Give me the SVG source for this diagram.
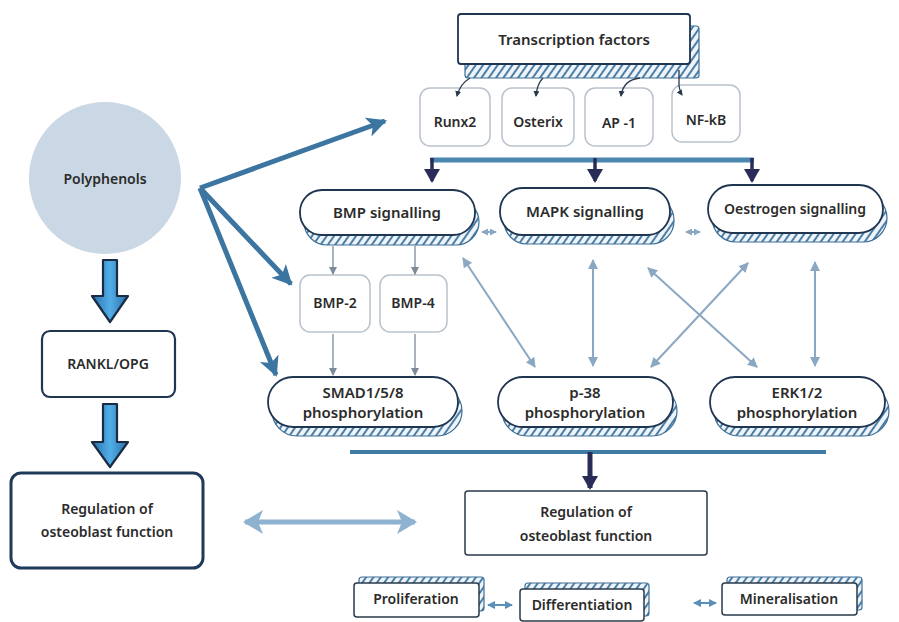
<svg xmlns="http://www.w3.org/2000/svg" width="899" height="622" viewBox="0 0 899 622">
<defs>
<style>
text{font-family:"Noto Sans","Liberation Sans",sans-serif;font-weight:600;fill:#2b2b2b;text-anchor:middle}
.t15{font-size:15px}
.t14{font-size:14px}
.t13{font-size:13.5px}
.pill{fill:#fff;stroke:#1f3550;stroke-width:1.8}
.shadow{fill:url(#hatch);stroke:#3e6f96;stroke-width:1.2}
.soft{fill:#fff;stroke:#b9c2cc;stroke-width:1.5}
.thin{stroke:#7d8b99;stroke-width:1.3;fill:none}
.lite{stroke:#8ba8c3;stroke-width:2;fill:none}
.big{stroke:#3b75a0;stroke-width:5;fill:none}
</style>
<pattern id="hatch" width="6" height="6" patternUnits="userSpaceOnUse" patternTransform="rotate(35)">
<rect width="6" height="6" fill="#eef4f9"/>
<line x1="1" y1="0" x2="1" y2="6" stroke="#4b7fa8" stroke-width="2"/>
</pattern>
<linearGradient id="blk" x1="0" y1="0" x2="1" y2="0">
<stop offset="0" stop-color="#2b6fa8"/>
<stop offset="0.5" stop-color="#52aee8"/>
<stop offset="1" stop-color="#2b6fa8"/>
</linearGradient>
<marker id="mBig" markerUnits="userSpaceOnUse" markerWidth="24" markerHeight="24" refX="18" refY="10" orient="auto">
<path d="M0,0 L20,10 L0,20 L5,10 Z" fill="#3b75a0"/>
</marker>
<marker id="mLiteE" markerUnits="userSpaceOnUse" markerWidth="12" markerHeight="12" refX="9" refY="5" orient="auto">
<path d="M0,0 L10,5 L0,10 Z" fill="#8ba8c3"/>
</marker>
<marker id="mLiteS" markerUnits="userSpaceOnUse" markerWidth="12" markerHeight="12" refX="1" refY="5" orient="auto">
<path d="M10,0 L0,5 L10,10 Z" fill="#8ba8c3"/>
</marker>
<marker id="mTinyE" markerUnits="userSpaceOnUse" markerWidth="8" markerHeight="8" refX="6" refY="3.5" orient="auto">
<path d="M0,0 L7,3.5 L0,7 Z" fill="#8ba8c3"/>
</marker>
<marker id="mTinyS" markerUnits="userSpaceOnUse" markerWidth="8" markerHeight="8" refX="1" refY="3.5" orient="auto">
<path d="M7,0 L0,3.5 L7,7 Z" fill="#8ba8c3"/>
</marker>
<marker id="mThin" markerUnits="userSpaceOnUse" markerWidth="10" markerHeight="10" refX="7" refY="4" orient="auto">
<path d="M0,0 L8,4 L0,8 Z" fill="#7d8b99"/>
</marker>
<marker id="mDot" markerUnits="userSpaceOnUse" markerWidth="8" markerHeight="8" refX="5" refY="3" orient="auto">
<path d="M0,0 L6,3 L0,6 Z" fill="#2b3a4a"/>
</marker>
<marker id="mDark" markerUnits="userSpaceOnUse" markerWidth="20" markerHeight="20" refX="12" refY="8" orient="auto">
<path d="M0,0 L14,8 L0,16 Z" fill="#2a2c58"/>
</marker>
<marker id="mWideE" markerUnits="userSpaceOnUse" markerWidth="26" markerHeight="26" refX="18" refY="12" orient="auto">
<path d="M0,0 L20,12 L0,24 L5,12 Z" fill="#8eb2cf"/>
</marker>
<marker id="mWideS" markerUnits="userSpaceOnUse" markerWidth="26" markerHeight="26" refX="2" refY="12" orient="auto">
<path d="M20,0 L0,12 L20,24 L15,12 Z" fill="#8eb2cf"/>
</marker>
<marker id="mSmE" markerUnits="userSpaceOnUse" markerWidth="10" markerHeight="10" refX="7" refY="4" orient="auto">
<path d="M0,0 L8,4 L0,8 Z" fill="#5a8fba"/>
</marker>
<marker id="mSmS" markerUnits="userSpaceOnUse" markerWidth="10" markerHeight="10" refX="1" refY="4" orient="auto">
<path d="M8,0 L0,4 L8,8 Z" fill="#5a8fba"/>
</marker>
</defs>
<rect width="899" height="622" fill="#ffffff"/>

<g id="polyphenols">
<circle cx="105" cy="178" r="76" fill="#cad7e5"/>
<text class="t14" x="105" y="184">Polyphenols</text>
</g>

<g id="rankl">
<rect x="42" y="331" width="133" height="66" rx="8" fill="#fff" stroke="#1f3550" stroke-width="2.2"/>
<text class="t14" x="108" y="369">RANKL/OPG</text>
</g>

<g id="regulation-left">
<rect x="11" y="473" width="192" height="95" rx="10" fill="#fff" stroke="#1f3a5a" stroke-width="3"/>
<text class="t14" x="107" y="514">Regulation of</text>
<text class="t14" x="107" y="537">osteoblast function</text>
</g>

<g id="transcription-factors">
<rect class="shadow" x="465" y="26" width="234" height="52" rx="3"/>
<rect x="458" y="14" width="232" height="50" rx="3" fill="#fff" stroke="#1f3550" stroke-width="1.8"/>
<text class="t15" x="574" y="45">Transcription factors</text>
</g>

<g id="runx2"><rect class="soft" x="420" y="88" width="70" height="58" rx="10"/><text class="t14" x="455" y="127">Runx2</text></g>
<g id="osterix"><rect class="soft" x="502" y="88" width="72" height="58" rx="10"/><text class="t14" x="538" y="127">Osterix</text></g>
<g id="ap1"><rect class="soft" x="585" y="88" width="68" height="58" rx="10"/><text class="t14" x="619" y="128">AP -1</text></g>
<g id="nfkb"><rect class="soft" x="672" y="85" width="68" height="57" rx="10"/><text class="t14" x="706" y="125">NF-kB</text></g>

<g id="bmp-signalling">
<rect class="shadow" x="304" y="199" width="175" height="46" rx="23"/>
<rect class="pill" x="300" y="190" width="175" height="45" rx="22"/>
<text class="t15" x="387" y="218">BMP signalling</text>
</g>
<g id="mapk-signalling">
<rect class="shadow" x="504" y="197" width="170" height="47" rx="23"/>
<rect class="pill" x="500" y="188" width="170" height="47" rx="23"/>
<text class="t15" x="585" y="217">MAPK signalling</text>
</g>
<g id="oestrogen-signalling">
<rect class="shadow" x="712" y="194" width="175" height="48" rx="24"/>
<rect class="pill" x="708" y="185" width="175" height="48" rx="24"/>
<text class="t14" x="795" y="214">Oestrogen signalling</text>
</g>

<g id="bmp2"><rect class="soft" x="300" y="275" width="70" height="57" rx="10"/><text class="t14" x="335" y="308">BMP-2</text></g>
<g id="bmp4"><rect class="soft" x="380" y="275" width="67" height="57" rx="10"/><text class="t14" x="413" y="308">BMP-4</text></g>

<g id="smad">
<rect class="shadow" x="272" y="386" width="190" height="50" rx="25"/>
<rect class="pill" x="268" y="377" width="190" height="50" rx="25"/>
<text class="t15" x="363" y="398">SMAD1/5/8</text>
<text class="t15" x="363" y="418">phosphorylation</text>
</g>
<g id="p38">
<rect class="shadow" x="502" y="386" width="175" height="50" rx="25"/>
<rect class="pill" x="498" y="377" width="175" height="50" rx="25"/>
<text class="t15" x="585" y="398">p-38</text>
<text class="t15" x="585" y="418">phosphorylation</text>
</g>
<g id="erk">
<rect class="shadow" x="714" y="386" width="175" height="50" rx="25"/>
<rect class="pill" x="710" y="377" width="175" height="50" rx="25"/>
<text class="t15" x="797" y="398">ERK1/2</text>
<text class="t15" x="797" y="418">phosphorylation</text>
</g>

<g id="regulation-right">
<rect x="465" y="491" width="242" height="64" rx="3" fill="#fff" stroke="#2a3a4a" stroke-width="1.5"/>
<text class="t14" x="586" y="517">Regulation of</text>
<text class="t14" x="586" y="541">osteoblast function</text>
</g>

<g id="proliferation">
<rect class="shadow" x="359" y="577" width="125" height="34" rx="3"/>
<rect x="354" y="583" width="125" height="34" rx="3" fill="#fff" stroke="#2a3a4a" stroke-width="1.5"/>
<text class="t14" x="416" y="604">Proliferation</text>
</g>
<g id="differentiation">
<rect class="shadow" x="525" y="583" width="124" height="33" rx="3"/>
<rect x="520" y="589" width="124" height="32" rx="3" fill="#fff" stroke="#2a3a4a" stroke-width="1.5"/>
<text class="t14" x="582" y="610">Differentiation</text>
</g>
<g id="mineralisation">
<rect class="shadow" x="727" y="577" width="135" height="33" rx="3"/>
<rect x="722" y="583" width="135" height="32" rx="3" fill="#fff" stroke="#2a3a4a" stroke-width="1.5"/>
<text class="t14" x="789" y="604">Mineralisation</text>
</g>

<g id="connectors">
<line class="big" x1="200" y1="188" x2="385" y2="121" marker-end="url(#mBig)"/>
<line class="big" x1="200" y1="188" x2="291" y2="284" marker-end="url(#mBig)"/>
<line class="big" x1="200" y1="188" x2="276" y2="375" marker-end="url(#mBig)"/>
<path d="M470,78 Q460,84 457,96" stroke="#2b3a4a" stroke-width="1.3" fill="none" marker-end="url(#mDot)"/>
<path d="M543,78 Q537,84 536,96" stroke="#2b3a4a" stroke-width="1.3" fill="none" marker-end="url(#mDot)"/>
<path d="M640,78 Q623,80 621,96" stroke="#2b3a4a" stroke-width="1.3" fill="none" marker-end="url(#mDot)"/>
<path d="M679,70 L679,86 Q680,92 682,95" stroke="#2b3a4a" stroke-width="1.3" fill="none" marker-end="url(#mDot)"/>
<line x1="430" y1="160" x2="754" y2="160" stroke="#4a86b0" stroke-width="5"/>
<line x1="432" y1="158" x2="432" y2="181" stroke="#2a2c58" stroke-width="3.5" marker-end="url(#mDark)"/>
<line x1="595" y1="158" x2="595" y2="181" stroke="#2a2c58" stroke-width="3.5" marker-end="url(#mDark)"/>
<line x1="752" y1="158" x2="752" y2="181" stroke="#2a2c58" stroke-width="3.5" marker-end="url(#mDark)"/>
<line class="lite" x1="482" y1="232" x2="496" y2="232" marker-start="url(#mTinyS)" marker-end="url(#mTinyE)"/>
<line class="lite" x1="686" y1="232" x2="700" y2="232" marker-start="url(#mTinyS)" marker-end="url(#mTinyE)"/>
<line class="thin" x1="333" y1="246" x2="333" y2="274" marker-end="url(#mThin)"/>
<line class="thin" x1="415" y1="246" x2="415" y2="274" marker-end="url(#mThin)"/>
<line class="thin" x1="333" y1="334" x2="333" y2="375" marker-end="url(#mThin)"/>
<line class="thin" x1="415" y1="334" x2="415" y2="375" marker-end="url(#mThin)"/>
<line class="lite" x1="463" y1="258" x2="535" y2="367" marker-start="url(#mLiteS)" marker-end="url(#mLiteE)"/>
<line class="lite" x1="593" y1="260" x2="593" y2="366" marker-start="url(#mLiteS)" marker-end="url(#mLiteE)"/>
<line class="lite" x1="648" y1="268" x2="757" y2="367" marker-start="url(#mLiteS)" marker-end="url(#mLiteE)"/>
<line class="lite" x1="651" y1="367" x2="748" y2="263" marker-start="url(#mLiteS)" marker-end="url(#mLiteE)"/>
<line class="lite" x1="815" y1="262" x2="815" y2="366" marker-start="url(#mLiteS)" marker-end="url(#mLiteE)"/>
<line x1="350" y1="452" x2="826" y2="452" stroke="#3f7ba3" stroke-width="4"/>
<line x1="590" y1="452" x2="590" y2="488" stroke="#2a2c58" stroke-width="5" marker-end="url(#mDark)"/>
<line x1="245" y1="522" x2="415" y2="522" stroke="#8eb2cf" stroke-width="5" marker-start="url(#mWideS)" marker-end="url(#mWideE)"/>
<line x1="488" y1="605" x2="512" y2="605" stroke="#5a8fba" stroke-width="2" marker-start="url(#mSmS)" marker-end="url(#mSmE)"/>
<line x1="694" y1="603" x2="716" y2="603" stroke="#5a8fba" stroke-width="2" marker-start="url(#mSmS)" marker-end="url(#mSmE)"/>
<path d="M103,260 L117,260 L117,296 L128,296 L110,322 L92,296 L103,296 Z" fill="url(#blk)" stroke="#1a2c44" stroke-width="2.2" stroke-linejoin="round"/>
<path d="M103,404 L117,404 L117,442 L128,442 L110,467 L92,442 L103,442 Z" fill="url(#blk)" stroke="#1a2c44" stroke-width="2.2" stroke-linejoin="round"/>
</g>
</svg>
